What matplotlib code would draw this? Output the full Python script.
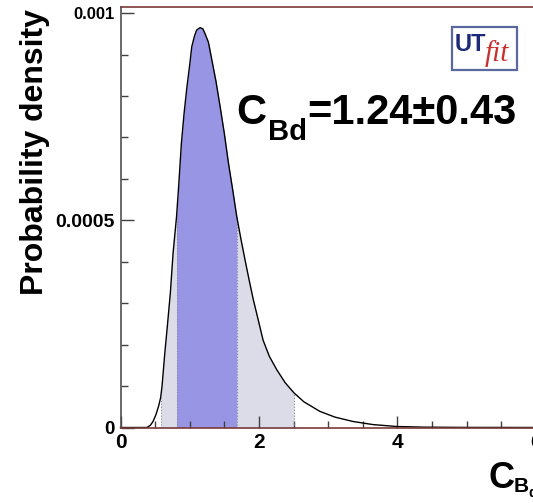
import numpy as np
import matplotlib
matplotlib.use("Agg")
import matplotlib.pyplot as plt
from matplotlib.patches import Rectangle
from matplotlib.ticker import MultipleLocator

plt.rcParams['font.family'] = ['Liberation Sans', 'DejaVu Sans']
plt.rcParams['font.weight'] = 'bold'

# posterior p.d.f. of C_Bd (density in units of 1e-4)
c_bd = np.array([0.0, 0.30, 0.38, 0.43, 0.47, 0.51, 0.55, 0.58, 0.60, 0.64, 0.68,
                 0.72, 0.76, 0.81, 0.84, 0.88, 0.92, 0.96, 1.00, 1.03, 1.07, 1.10,
                 1.15, 1.19, 1.22, 1.27, 1.32, 1.38, 1.44, 1.50, 1.56, 1.62, 1.68,
                 1.74, 1.80, 1.86, 1.92, 1.99, 2.06, 2.15, 2.26, 2.38, 2.51, 2.65,
                 2.88, 3.10, 3.36, 3.65, 3.99, 4.40, 5.00, 6.50])
density = np.array([0, 0, 0, 0.05, 0.145, 0.30, 0.51, 0.72, 0.99, 1.79, 2.50,
                    3.24, 4.21, 5.09, 5.81, 6.86, 7.60, 8.22, 8.75, 9.19, 9.45, 9.59,
                    9.65, 9.62, 9.51, 9.30, 8.87, 8.35, 7.74, 7.10, 6.38, 5.75, 5.09,
                    4.55, 4.04, 3.55, 3.08, 2.60, 2.11, 1.72, 1.39, 1.08, 0.83, 0.62,
                    0.39, 0.25, 0.145, 0.07, 0.024, 0.008, 0.002, 0]) * 1e-4

band68 = (0.81, 1.68)
band95 = (0.58, 2.51)

x_ticks = [0, 2, 4, 6]
y_ticks = [0, 0.0005, 0.001]
y_tick_labels = ['0', '0.0005', '0.001']

W, H = 533, 503
fig = plt.figure(figsize=(W / 100, H / 100), dpi=100)
ax = fig.add_axes([120.5 / W, (H - 427.5) / H, 6.5 * 69.2 / W, 420.2 / H])

frame_col = '#7a3a3a'
ax.spines['left'].set_color('#505050')
ax.spines['bottom'].set_color(frame_col)
ax.spines['top'].set_color(frame_col)
ax.spines['right'].set_color(frame_col)
for s in ax.spines.values():
    s.set_linewidth(1.2)

in95 = (c_bd >= band95[0]) & (c_bd <= band95[1])
in68 = (c_bd >= band68[0]) & (c_bd <= band68[1])
ax.fill_between(c_bd, density, where=in95, color='#dcdce8', lw=0)
ax.fill_between(c_bd, density, where=in68, color='#9896e4', lw=0)
edges = list(band95) + list(band68)
ax.vlines(edges, 0, np.interp(edges, c_bd, density), colors='#8a8aa0',
          linestyles=':', lw=0.8)
ax.plot(c_bd, density, color='black', lw=1.0, clip_on=False)

ax.set_xlim(0, 6.5)
ax.set_ylim(0, 0.001014)
ax.set_xticks(x_ticks)
ax.set_xticklabels([str(t) for t in x_ticks])
ax.set_yticks(y_ticks)
ax.set_yticklabels(y_tick_labels)
ax.xaxis.set_minor_locator(MultipleLocator(0.5))
ax.yaxis.set_minor_locator(MultipleLocator(0.0001))
ax.tick_params(which='both', direction='in', colors='#404040', width=1.0,
               top=False, right=False)
ax.tick_params(which='major', length=9)
ax.tick_params(which='minor', length=5)
ax.tick_params(axis='x', pad=4, labelsize=15, labelcolor='black')
ax.tick_params(axis='y', pad=4, labelcolor='black')
for lab, fs in zip(ax.get_yticklabels(), [13.5, 14, 12]):
    lab.set_fontsize(fs)
    lab.set_fontweight('bold')
for lab in ax.get_xticklabels():
    lab.set_fontweight('bold')

# y axis title
fig.text(35 / W, (H - 152) / H, 'Probability density', rotation=90,
         ha='center', va='center', fontsize=23, fontweight='bold')

def px(x, y):
    return x / W, (H - y) / H

# result label
fig.text(*px(236, 124), 'C', fontsize=30, fontweight='bold', va='baseline')
fig.text(*px(268, 140), 'Bd', fontsize=21, fontweight='bold', va='baseline')
fig.text(*px(307, 124), '=1.24\u00b10.43', fontsize=30, fontweight='bold',
         va='baseline')

# x axis title (cut by the right edge, as in the original)
fig.text(*px(488, 488), 'C', fontsize=26, fontweight='bold', va='baseline')
fig.text(*px(514, 492), 'B', fontsize=15, fontweight='bold', va='baseline')
fig.text(*px(528, 497), 'd', fontsize=10, fontweight='bold', va='baseline')

# UTfit logo
x0, y0 = px(451.7, 70)
fig.patches.append(Rectangle((x0, y0), 65 / W, 43.3 / H, transform=fig.transFigure,
                             facecolor='white', edgecolor='#5a68a0', lw=1.6))
fig.text(*px(455, 51), 'UT', fontsize=17, fontweight='bold', color='#1c2a78',
         va='baseline')
fig.text(*px(485, 61), 'fit', fontsize=21, fontstyle='italic', fontweight='normal',
         color='#c83030', va='baseline', family='Liberation Serif')

fig.savefig('out.png', dpi=100)
